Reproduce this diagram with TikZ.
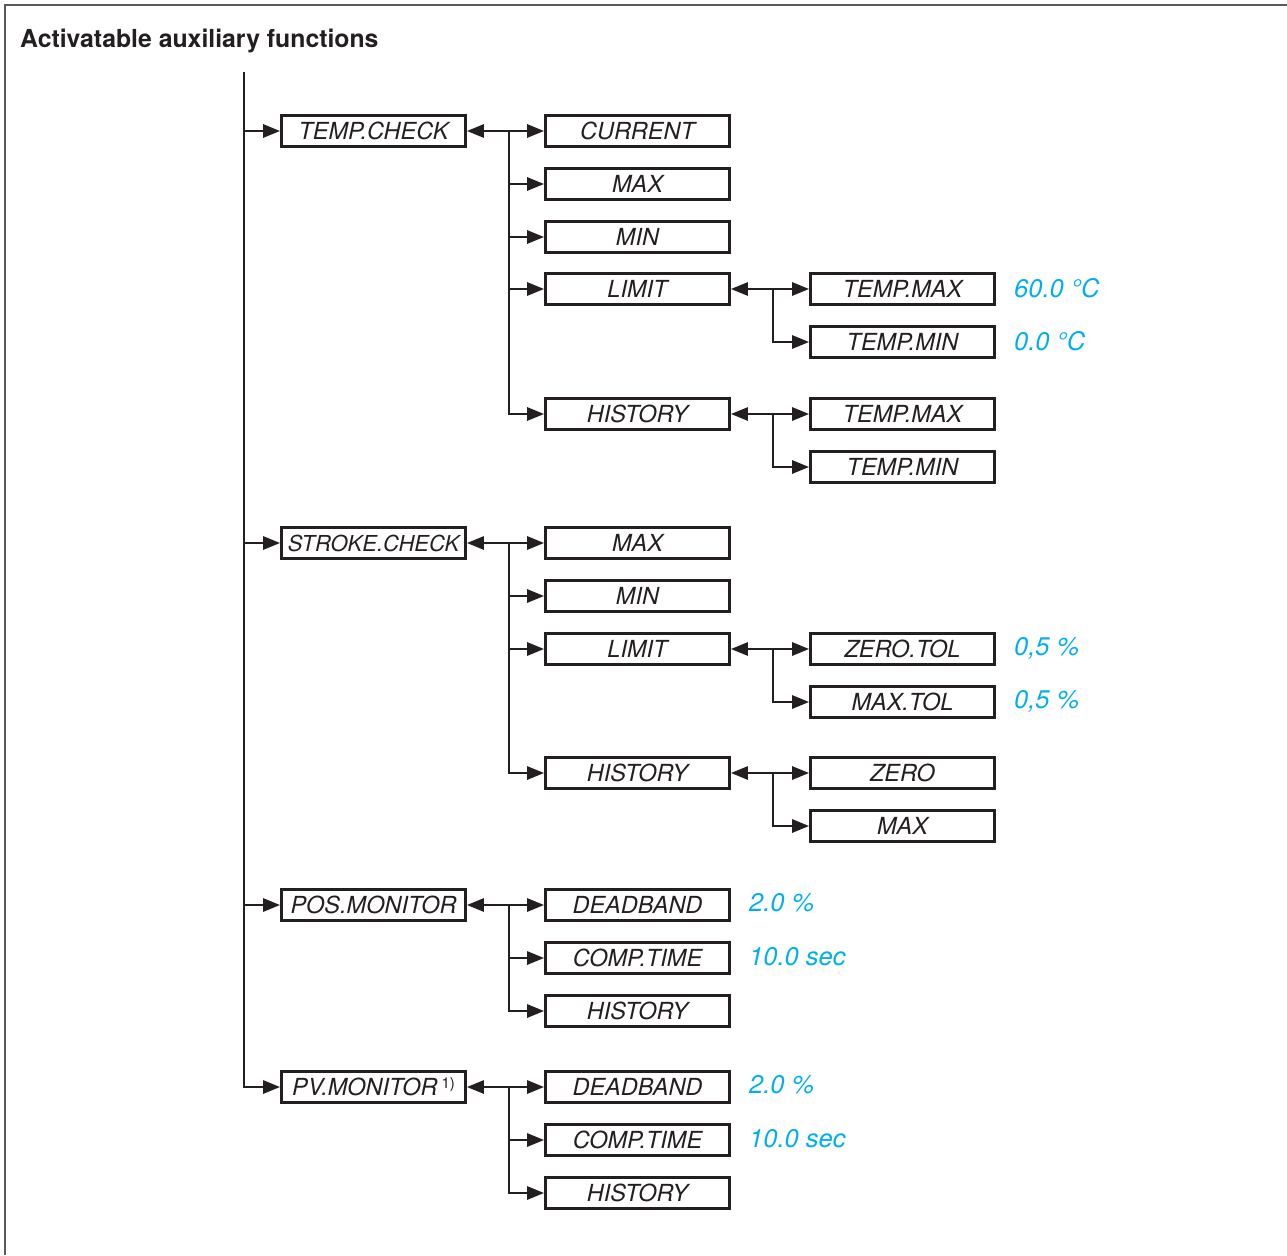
\documentclass[tikz,border=0pt]{standalone}
\usepackage{fontspec}
\setmainfont{TeX Gyre Heros}
\usetikzlibrary{arrows.meta}
\definecolor{valcyan}{HTML}{00AEEF}
\definecolor{framegray}{HTML}{5A5A5A}
\definecolor{ink}{HTML}{231F20}
\begin{document}
\begin{tikzpicture}[x=1pt,y=-1pt,
  box/.style={draw=ink, line width=2.7pt, minimum width=184pt, minimum height=31pt,
    inner sep=0pt, text height=16.8pt, text depth=0pt, text=ink,
    font=\fontsize{23.5}{25}\selectfont\itshape},
  val/.style={anchor=west, inner sep=0pt, text height=17.5pt, text depth=0pt,
    text=valcyan, font=\fontsize{25.5}{27}\selectfont\itshape},
  tip/.tip={Triangle[length=17pt,width=13pt]},
  conn/.style={draw=ink, line width=2.7pt, -tip},
  dconn/.style={draw=ink, line width=2.7pt, tip-tip},
  frame/.style={draw=framegray, line width=2pt}]
\useasboundingbox (0,0) rectangle (1287,1255);
% frame
\draw[frame] (1287,5) -- (5,5) -- (5,1255);
% title
\node[anchor=base west, inner sep=0pt, text=ink, font=\fontsize{24.8}{27}\selectfont\bfseries] (title) at (20,48) {Activatable auxiliary functions};
% trunk
\coordinate (top) at (244,72);
% level 1
\node[box] (tc) at (373.5,131) {TEMP.CHECK};
\node[box, font=\fontsize{22}{25}\selectfont\itshape] (sc) at (373.5,543) {STROKE.CHECK};
\node[box] (pm) at (373.5,905) {POS.MONITOR};
\node[box] (pv) at (373.5,1087) {PV.MONITOR\,\raisebox{0.55ex}{\fontsize{15}{16}\selectfont\upshape 1)}};
\foreach \n in {tc,sc,pm,pv} \draw[conn] (top) |- (\n.west);
% TEMP.CHECK children
\node[box] (tcur) at (637.5,131) {CURRENT};
\node[box] (tmax) at (637.5,184) {MAX};
\node[box] (tmin) at (637.5,237) {MIN};
\node[box] (tlim) at (637.5,289) {LIMIT};
\node[box] (this) at (637.5,414) {HISTORY};
\coordinate (tb) at (509,131);
\draw[dconn] (tc.east) -- (tcur.west);
\foreach \n in {tmax,tmin,tlim,this} \draw[conn] (tb) |- (\n.west);
% TEMP LIMIT children
\node[box] (tlmax) at (902.5,289) {TEMP.MAX};
\node[box] (tlmin) at (902.5,342) {TEMP.MIN};
\coordinate (tlb) at (773,289);
\draw[dconn] (tlim.east) -- (tlmax.west);
\draw[conn] (tlb) |- (tlmin.west);
\node[val] (v1) at (1014,289) {60.0 °C};
\node[val] (v2) at (1014,342) {0.0 °C};
% TEMP HISTORY children
\node[box] (thmax) at (902.5,414) {TEMP.MAX};
\node[box] (thmin) at (902.5,467) {TEMP.MIN};
\coordinate (thb) at (773,414);
\draw[dconn] (this.east) -- (thmax.west);
\draw[conn] (thb) |- (thmin.west);
% STROKE.CHECK children
\node[box] (smax) at (637.5,543) {MAX};
\node[box] (smin) at (637.5,596) {MIN};
\node[box] (slim) at (637.5,649) {LIMIT};
\node[box] (shis) at (637.5,773) {HISTORY};
\coordinate (sb) at (509,543);
\draw[dconn] (sc.east) -- (smax.west);
\foreach \n in {smin,slim,shis} \draw[conn] (sb) |- (\n.west);
% STROKE LIMIT children
\node[box] (szt) at (902.5,649) {ZERO.TOL};
\node[box] (smt) at (902.5,702) {MAX.TOL};
\coordinate (slb) at (773,649);
\draw[dconn] (slim.east) -- (szt.west);
\draw[conn] (slb) |- (smt.west);
\node[val] (v3) at (1014,647) {0,5 \%};
\node[val] (v4) at (1014,700) {0,5 \%};
% STROKE HISTORY children
\node[box] (shz) at (902.5,773) {ZERO};
\node[box] (shm) at (902.5,826) {MAX};
\coordinate (shb) at (773,773);
\draw[dconn] (shis.east) -- (shz.west);
\draw[conn] (shb) |- (shm.west);
% POS.MONITOR children
\node[box] (pdb) at (637.5,905) {DEADBAND};
\node[box] (pct) at (637.5,958) {COMP.TIME};
\node[box] (phi) at (637.5,1011) {HISTORY};
\coordinate (pb) at (509,905);
\draw[dconn] (pm.east) -- (pdb.west);
\foreach \n in {pct,phi} \draw[conn] (pb) |- (\n.west);
\node[val] (v5) at (749,903) {2.0 \%};
\node[val] (v6) at (749,957) {10.0 sec};
% PV.MONITOR children
\node[box] (vdb) at (637.5,1087) {DEADBAND};
\node[box] (vct) at (637.5,1140) {COMP.TIME};
\node[box] (vhi) at (637.5,1193) {HISTORY};
\coordinate (vb) at (509,1087);
\draw[dconn] (pv.east) -- (vdb.west);
\foreach \n in {vct,vhi} \draw[conn] (vb) |- (\n.west);
\node[val] (v7) at (749,1085) {2.0 \%};
\node[val] (v8) at (749,1139) {10.0 sec};
\end{tikzpicture}
\end{document}
